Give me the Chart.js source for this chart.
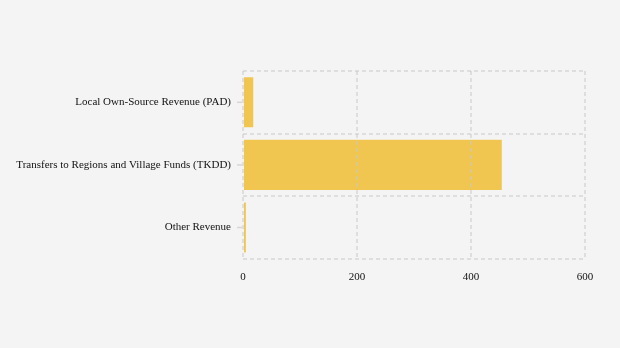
<!DOCTYPE html>
<html>
<head>
<meta charset="utf-8">
<script src="https://cdn.jsdelivr.net/npm/chart.js@4"></script>
<style>
  html, body { margin: 0; padding: 0; background: #f4f4f4; }
  #wrap { width: 620px; height: 348px; }
</style>
</head>
<body>
<div id="wrap"><canvas id="revenue"></canvas></div>
<script>
const categories = [
  "Local Own-Source Revenue (PAD)",
  "Transfers to Regions and Village Funds (TKDD)",
  "Other Revenue"
];
const revenue = [18, 454, 5];
const xTicks = [0, 200, 400, 600];

const gridColor = "rgba(200, 200, 200, 0.5)";

// short tick marks beside each category label (the grid itself sits between categories)
const categoryTicks = {
  id: "categoryTicks",
  afterDraw(chart) {
    const y = chart.scales.y;
    const ctx = chart.ctx;
    ctx.save();
    ctx.strokeStyle = "#d6d6d6";
    ctx.lineWidth = 1.5;
    y.ticks.forEach((t, i) => {
      const py = y.getPixelForTick(i);
      ctx.beginPath();
      ctx.moveTo(y.right - 6, py);
      ctx.lineTo(y.right - 1, py);
      ctx.stroke();
    });
    ctx.restore();
  }
};

new Chart(document.getElementById("revenue"), {
  type: "bar",
  data: {
    labels: categories,
    datasets: [{
      data: revenue,
      backgroundColor: "rgb(240, 198, 80)",
      barPercentage: 0.8,
      categoryPercentage: 1
    }]
  },
  options: {
    indexAxis: "y",
    responsive: true,
    maintainAspectRatio: false,
    animation: false,
    layout: { padding: { top: 71, right: 35, bottom: 52, left: 0 } },
    plugins: { legend: { display: false }, tooltip: { enabled: false } },
    scales: {
      x: {
        min: 0,
        max: 600,
        afterBuildTicks: (axis) => { axis.ticks = xTicks.map(v => ({ value: v })); },
        grid: { color: gridColor, drawTicks: false, lineWidth: 2, z: 1 },
        border: { display: false, dash: [4, 3] },
        ticks: { color: "#111", padding: 12, font: { family: "Liberation Serif", size: 11 } }
      },
      y: {
        afterFit: (axis) => { axis.width = 243; },
        grid: { color: gridColor, offset: true, drawTicks: false, lineWidth: 2, z: 1 },
        border: { display: false, dash: [4, 3] },
        ticks: { color: "#111", padding: 12, font: { family: "Liberation Serif", size: 11 } }
      }
    }
  },
  plugins: [categoryTicks]
});
</script>
</body>
</html>
